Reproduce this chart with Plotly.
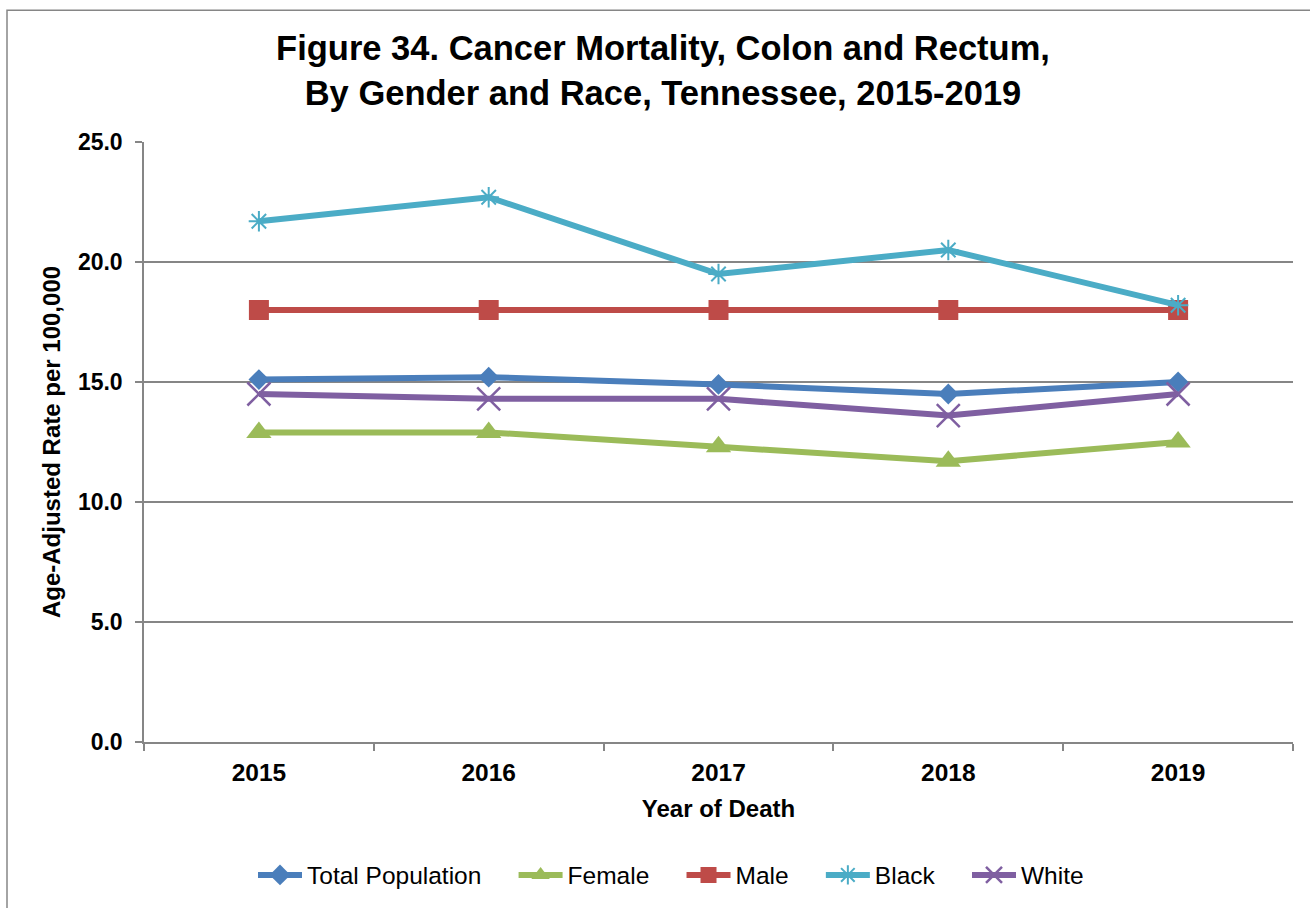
import plotly.graph_objects as go

years = ["2015", "2016", "2017", "2018", "2019"]
total_population = [15.1, 15.2, 14.9, 14.5, 15.0]
female = [12.9, 12.9, 12.3, 11.7, 12.5]
male = [18.0, 18.0, 18.0, 18.0, 18.0]
black = [21.7, 22.7, 19.5, 20.5, 18.2]
white = [14.5, 14.3, 14.3, 13.6, 14.5]

y_ticks = [0, 5, 10, 15, 20, 25]

FONT = "Liberation Sans, Arial, sans-serif"
W, H = 1310, 908
L, R, T, B = 144, 17, 142, 165
plot_w = W - L - R
plot_h = H - T - B
GRID = "#868686"
PAD = "\u00a0" * 4  # extra room between legend entries


def px_x(px):
    return (px - L) / plot_w


def px_y(py):
    return (H - B - py) / plot_h


series = [
    ("Total Population", total_population, "#4A7EBB", dict(symbol="diamond", size=16)),
    ("Female", female, "#9BBB59", dict(symbol="triangle-up", size=22)),
    ("Male", male, "#BE4B48", dict(symbol="square", size=20)),
    ("Black", black, "#4BACC6", dict(symbol="asterisk-open", size=17, line=dict(width=2, color="#4BACC6"))),
    ("White", white, "#7F5FA1", dict(symbol="x-thin-open", size=23, line=dict(width=2.5, color="#7F5FA1"))),
]

fig = go.Figure()
for i, (name, vals, color, mk) in enumerate(series):
    label = name + (PAD if i < len(series) - 1 else "")
    fig.add_trace(go.Scatter(
        x=years, y=vals, name=label, mode="lines+markers",
        line=dict(color=color, width=6),
        marker=dict(color=color, **mk),
    ))

fig.update_layout(
    width=W, height=H,
    margin=dict(l=L, r=R, t=T, b=B),
    paper_bgcolor="white", plot_bgcolor="white",
    font=dict(family=FONT, color="black"),
    title=dict(
        text="<b>Figure 34. Cancer Mortality, Colon and Rectum,<br>By Gender and Race, Tennessee, 2015-2019</b>",
        font=dict(size=34.5, family=FONT, color="black"),
        x=663 / W, xanchor="center",
        y=1 - 60 / H, yanchor="top", yref="container",
    ),
    xaxis=dict(
        type="category",
        showgrid=False,
        showline=True, linecolor=GRID, linewidth=1.5,
        ticks="outside", tickson="boundaries", ticklen=7, tickcolor=GRID, tickwidth=1.5,
        ticklabelstandoff=8,
        tickfont=dict(size=24.5, family=FONT, color="black", weight="bold"),
        title=dict(text="<b>Year of Death</b>", font=dict(size=24, family=FONT), standoff=15),
        range=[-0.5, 4.5],
    ),
    yaxis=dict(
        range=[0, 25],
        tickvals=y_ticks,
        ticktext=[f"<b>{v:.1f}</b>" for v in y_ticks],
        showgrid=True, gridcolor=GRID, gridwidth=1.5,
        showline=True, linecolor=GRID, linewidth=1.5,
        ticks="outside", ticklen=7, tickcolor=GRID, tickwidth=1.5,
        ticklabelstandoff=8,
        tickfont=dict(size=23, family=FONT, color="black"),
        title=dict(text="<b>Age-Adjusted Rate per 100,000</b>", font=dict(size=24, family=FONT), standoff=10),
        zeroline=False,
    ),
    legend=dict(
        orientation="h",
        x=px_x(671), xanchor="center",
        y=px_y(875), yanchor="middle",
        font=dict(size=24.5, family=FONT, color="black"),
        itemwidth=44,
        traceorder="normal",
    ),
    shapes=[dict(
        type="rect", xref="paper", yref="paper",
        x0=px_x(7), x1=px_x(1335), y0=px_y(930), y1=px_y(10),
        line=dict(color=GRID, width=1.5), layer="above",
    )],
)

fig.write_html("out.html")
